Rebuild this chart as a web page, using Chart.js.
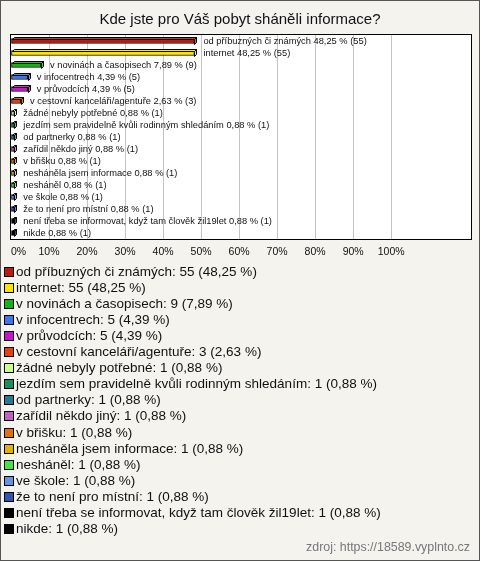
<!DOCTYPE html>
<html><head><meta charset="utf-8">
<script src="https://cdn.jsdelivr.net/npm/chart.js@4/dist/chart.umd.min.js"></script>
<style>
html,body{margin:0;padding:0;background:#f4f3ee;}
canvas{display:block;}
</style></head><body>
<canvas id="c" width="480" height="561"></canvas>
<script>
const titleText = "Kde jste pro Váš pobyt sháněli informace?";
const sourceText = "zdroj: https://18589.vyplnto.cz";
const categories = [
  "od příbuzných či známých",
  "internet",
  "v novinách a časopisech",
  "v infocentrech",
  "v průvodcích",
  "v cestovní kanceláři/agentuře",
  "žádné nebyly potřebné",
  "jezdím sem pravidelně kvůli rodinným shledáním",
  "od partnerky",
  "zařídil někdo jiný",
  "v břišku",
  "nesháněla jsem informace",
  "nesháněl",
  "ve škole",
  "že to není pro místní",
  "není třeba se informovat, když tam člověk žil19let",
  "nikde"
];
const counts = [55, 55, 9, 5, 5, 3, 1, 1, 1, 1, 1, 1, 1, 1, 1, 1, 1];
const percents = [48.25, 48.25, 7.89, 4.39, 4.39, 2.63, 0.88, 0.88, 0.88, 0.88, 0.88, 0.88, 0.88, 0.88, 0.88, 0.88, 0.88];
const colors = ["#bb1a0e", "#f8e400", "#12b312", "#4472ee", "#c414d0", "#e2420e", "#ccff88", "#17915f", "#237a92",
                "#c062c0", "#e47200", "#e2b200", "#44e444", "#6892e2", "#3252b4", "#000000", "#000000"];
const tickValues = [0, 10, 20, 30, 40, 50, 60, 70, 80, 90, 100];

const fmt = v => v.toFixed(2).replace('.', ',');
const FONT = '"Liberation Sans", Arial, sans-serif';

function lighten(hex, f) {
  const n = parseInt(hex.slice(1), 16);
  let r = n >> 16, g = (n >> 8) & 255, b = n & 255;
  r = Math.round(r + (255 - r) * f); g = Math.round(g + (255 - g) * f); b = Math.round(b + (255 - b) * f);
  return `rgb(${r},${g},${b})`;
}

const decor = {
  id: 'decor',
  beforeDraw(chart) {
    const ctx = chart.ctx, a = chart.chartArea;
    ctx.save();
    ctx.fillStyle = '#f4f3ee';
    ctx.fillRect(0, 0, chart.width, chart.height);
    ctx.fillStyle = '#ffffff';
    ctx.fillRect(a.left, a.top, a.right - a.left, a.bottom - a.top);
    ctx.restore();
  },
  afterDraw(chart) {
    const ctx = chart.ctx, a = chart.chartArea;
    ctx.save();
    ctx.strokeStyle = '#000'; ctx.lineWidth = 1;
    ctx.strokeRect(Math.round(a.left) - 0.5, Math.round(a.top) - 0.5, Math.round(a.right - a.left) + 1, Math.round(a.bottom - a.top) + 1);
    ctx.strokeStyle = '#555';
    ctx.strokeRect(0.5, 0.5, chart.width - 1, chart.height - 1);
    ctx.fillStyle = '#111'; ctx.font = '15px ' + FONT; ctx.textAlign = 'center'; ctx.textBaseline = 'middle';
    ctx.fillText(titleText, chart.width / 2, 20);
    ctx.textAlign = 'left';
    ctx.font = '13.5px ' + FONT;
    categories.forEach((c, i) => {
      const y = Math.round(a.bottom + 33 + i * 16.05);
      ctx.fillStyle = colors[i];
      ctx.fillRect(5, y - 4, 8, 8);
      ctx.strokeStyle = '#000';
      ctx.strokeRect(4.5, y - 4.5, 9, 9);
      ctx.fillStyle = '#111';
      ctx.fillText(`${c}: ${counts[i]} (${fmt(percents[i])} %)`, 16, y + 0.5);
    });
    ctx.textAlign = 'right'; ctx.fillStyle = '#777'; ctx.font = '12.4px ' + FONT;
    ctx.fillText(sourceText, chart.width - 10, chart.height - 13);
    ctx.restore();
  },
  afterDatasetsDraw(chart) {
    const ctx = chart.ctx;
    const meta = chart.getDatasetMeta(0);
    const d = 2;
    meta.data.forEach((b, i) => {
      const p = b.getProps(['x', 'y', 'base', 'height'], true);
      const top = Math.round(p.y - p.height / 2) + 0.5, bot = top + p.height;
      const x = Math.round(p.x) + 0.5, base = Math.round(p.base) + 0.5;
      ctx.save();
      ctx.lineWidth = 1; ctx.strokeStyle = '#000';
      ctx.fillStyle = lighten(colors[i], 0.15);
      ctx.beginPath(); ctx.moveTo(base, top); ctx.lineTo(base + d, top - d); ctx.lineTo(x + d, top - d); ctx.lineTo(x, top); ctx.closePath(); ctx.fill(); ctx.stroke();
      ctx.fillStyle = lighten(colors[i], 0.3);
      ctx.beginPath(); ctx.moveTo(x, top); ctx.lineTo(x + d, top - d); ctx.lineTo(x + d, bot - d); ctx.lineTo(x, bot); ctx.closePath(); ctx.fill(); ctx.stroke();
      ctx.fillStyle = '#111'; ctx.font = '9.3px ' + FONT; ctx.textBaseline = 'middle'; ctx.textAlign = 'left';
      ctx.fillText(`${categories[i]} ${fmt(percents[i])} % (${counts[i]})`, p.x + 9, p.y);
      ctx.restore();
    });
  }
};

new Chart(document.getElementById('c'), {
  type: 'bar',
  data: {
    labels: categories,
    datasets: [{
      data: percents,
      backgroundColor: colors,
      borderColor: '#000',
      borderWidth: 1,
      borderSkipped: false,
      barThickness: 5
    }]
  },
  options: {
    indexAxis: 'y',
    responsive: false,
    animation: false,
    events: [],
    layout: { padding: { left: 11, right: 9, top: 35, bottom: 302 } },
    plugins: { legend: { display: false }, tooltip: { enabled: false }, title: { display: false } },
    scales: {
      y: { type: 'category', display: false, offset: true },
      x: {
        type: 'linear', min: 0, max: 121,
        afterBuildTicks: s => { s.ticks = tickValues.concat([120]).map(v => ({ value: v })); },
        afterFit: s => { s.height = 20; },
        border: { display: false },
        grid: {
          drawTicks: false,
          color: c => (c.tick && c.tick.value > 0 && c.tick.value <= 100) ? '#c4c4c4' : 'rgba(0,0,0,0)'
        },
        ticks: {
          align: 'inner',
          padding: 7,
          color: '#111',
          font: { family: 'Liberation Sans', size: 10.5 },
          callback: v => v <= 100 ? v + '%' : ''
        }
      }
    }
  },
  plugins: [decor]
});
</script>
</body></html>
